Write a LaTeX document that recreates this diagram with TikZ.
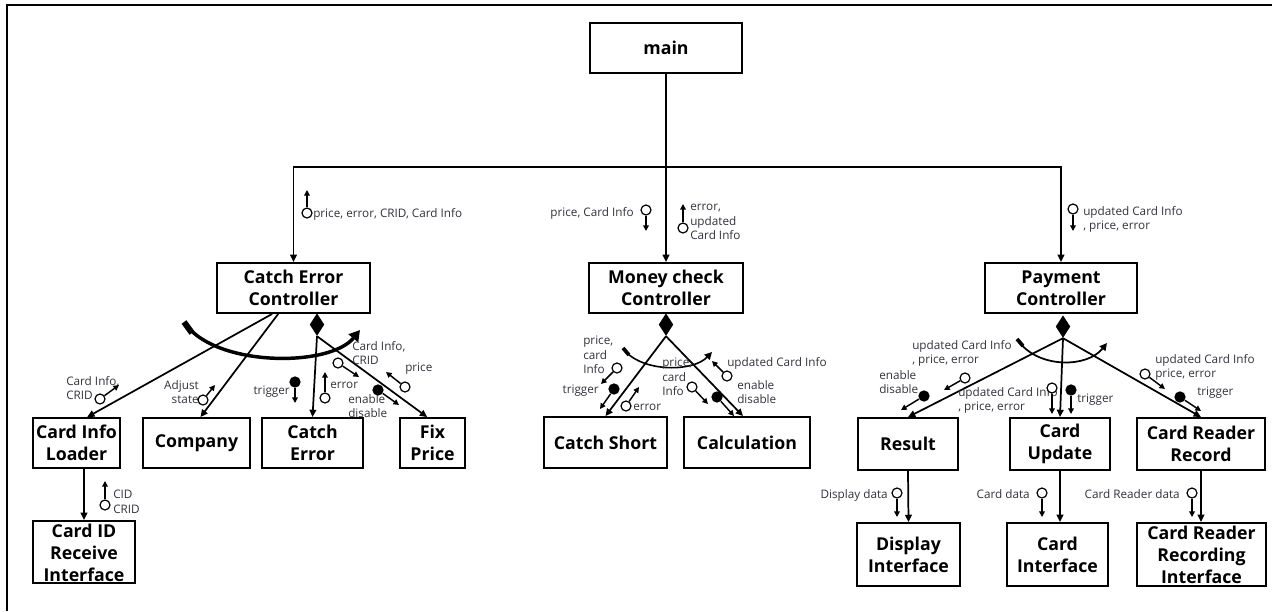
\documentclass[tikz,border=0pt]{standalone}
\usepackage{fontspec}
\setmainfont{Open Sans}
\usetikzlibrary{arrows.meta,shapes.geometric}
\definecolor{labc}{RGB}{50,50,60}
\newcommand{\cpl}[4]{\node[#2] (#1) at (#3) {}; \coordinate (#1e) at (#4); \draw[carr] (#1) -- (#1e);}
\begin{document}
\begin{tikzpicture}[x=0.75pt,y=-0.75pt,
  box/.style={draw, line width=1.4pt, inner sep=0pt, align=center, font=\fontsize{13.3}{16.5}\selectfont\bfseries, text=black},
  boxtxt/.style={inner sep=0pt, align=center, font=\fontsize{13.3}{16.5}\selectfont\bfseries, text=black},
  lab/.style={inner sep=0pt, font=\fontsize{8.8}{10.8}\selectfont, text=labc},
  arr/.style={line width=1.3pt, -{Triangle[length=5.5pt,width=5pt]}},
  ln/.style={line width=1.3pt},
  oc/.style={circle, draw, line width=0.9pt, minimum size=7.5pt, inner sep=0pt, fill=white},
  fc/.style={circle, fill=black, minimum size=8.5pt, inner sep=0pt},
  carr/.style={line width=1.1pt, -{Triangle[length=4.2pt,width=4.2pt]}},
  diam/.style={diamond, fill=black, inner sep=0pt, minimum width=11pt, minimum height=17pt}
]
\useasboundingbox (0,0) rectangle (1272,611);
% frame
\draw[line width=1.5pt] (7,611) -- (7,5) -- (1272,5);

% boxes
\node[box, minimum width=114pt, minimum height=37.5pt] (main) at (666,48) {main};
\node[box, minimum width=114.75pt, minimum height=37.5pt] (cec) at (293.5,288) {Catch Error\\Controller};
\node[box, minimum width=115.5pt, minimum height=37.5pt] (mcc) at (666,288) {Money check\\Controller};
\node[box, minimum width=114pt, minimum height=37.5pt] (pc) at (1061,288) {Payment\\Controller};

\node[box, minimum width=65.25pt, minimum height=37.5pt] (cil) at (76.5,443) {Card Info\\Loader};
\node[box, minimum width=80.25pt, minimum height=37.5pt] (comp) at (196.5,443) {Company};
\node[box, minimum width=75.75pt, minimum height=37.5pt] (ce) at (312.5,443) {Catch\\Error};
\node[box, minimum width=48.75pt, minimum height=37.5pt] (fp) at (432.5,443) {Fix\\Price};
\node[box, minimum width=76.5pt, minimum height=46.5pt] (cidri) at (84,552) {};
\node[boxtxt] (cidrit) at (84,553) {Card ID\\Receive\\Interface};

\node[box, minimum width=92.25pt, minimum height=38.25pt] (cs) at (605.5,442.5) {Catch Short};
\node[box, minimum width=94.5pt, minimum height=38.25pt] (calc) at (747,442.5) {Calculation};

\node[box, minimum width=75pt, minimum height=39pt] (res) at (908,444) {Result};
\node[box, minimum width=75pt, minimum height=39pt] (cu) at (1060,444) {Card\\Update};
\node[box, minimum width=96pt, minimum height=39pt] (crr) at (1201,444) {Card Reader\\Record};
\node[box, minimum width=77.25pt, minimum height=47.25pt] (di) at (908.5,554.5) {Display\\Interface};
\node[box, minimum width=75.75pt, minimum height=47.25pt] (ci) at (1057.5,554.5) {Card\\Interface};
\node[box, minimum width=96.75pt, minimum height=47.25pt] (crri) at (1201.5,554.5) {};
\node[boxtxt] (crrit) at (1201.5,555) {Card Reader\\Recording\\Interface};

% diamonds
\node[diam, anchor=north] (d1) at (317,313) {};
\node[diam, anchor=north] (d2) at (666,313) {};
\node[diam, anchor=north] (d3) at (1063,315) {};

% bus
\coordinate (j) at (666,167);
\draw[ln] (main.south) -- (j);
\draw[arr] (j) -- (mcc.north);
\draw[arr] (j) -| (cec.north);
\draw[arr] (j) -| (pc.north);

% iteration arcs
\draw[line width=2.6pt, -{Triangle[length=8pt,width=9pt]}] (187,326) .. controls (220,367) and (330,367) .. (360,330);
\draw[line width=4.5pt] (184,322) -- (192,333);
\draw[line width=1.2pt, -{Triangle[length=5.5pt,width=5.5pt]}] (626,352) .. controls (645,372) and (693,372) .. (712,352);
\draw[line width=2.8pt] (623,348) -- (629,355);
\draw[line width=1.3pt, -{Triangle[length=5.5pt,width=5.5pt]}] (1020,343) .. controls (1040,368) and (1087,368) .. (1107,343);
\draw[line width=2.8pt] (1017,339) -- (1023,346);

% connectors
\draw[arr] ([xshift=-16pt]cec.south) -- ([xshift=8pt]cil.north);
\draw[arr] ([xshift=-11.5pt]cec.south) -- ([xshift=3pt]comp.north);
\draw[arr] (d1.south) -- (ce.north);
\draw[arr] (d1.south) -- ([xshift=-4pt]fp.north);
\draw[arr] (cil.south -| cidri.north) -- (cidri.north);
\draw[arr] (d2.south) -- (cs.north);
\draw[arr] (d2.south) -- ([xshift=-3pt]calc.north);
\draw[arr] (d3.south) -- (res.north);
\draw[arr] (d3.south) -- (cu.north);
\draw[arr] (d3.south) -- (crr.north);
\draw[arr] (res.south) -- (di.north);
\draw[arr] (cu.south) -- (cu.south |- ci.north);
\draw[arr] (crr.south) -- (crr.south |- crri.north);

% top labels
\node[lab, anchor=base west] (t1) at (313,217) {price, error, CRID, Card Info};
\cpl{k1}{oc}{307,213}{307,190}
\node[lab, anchor=base east] (t2) at (634,216) {price, Card Info};
\cpl{k2}{oc}{646,210}{646,231}
\node[lab, anchor=north west, align=left] (t3) at (690,204) {error,\\updated\\Card Info};
\cpl{k3}{oc}{683,228}{683,204}
\node[lab, anchor=north west, align=left] (t4) at (1083,206) {updated Card Info\\, price, error};
\cpl{k4}{oc}{1073,209}{1073,231}

% catch error controller labels
\node[lab, anchor=north west, align=left] (a1) at (66,376) {Card Info,\\CRID};
\cpl{a1k}{oc}{100,399}{119,385}
\node[lab, anchor=north east, align=right] (a2) at (199,380) {Adjust\\state};
\cpl{a2k}{oc}{203,400}{215,385}
\node[lab, anchor=base east] (a3) at (290,394) {trigger};
\cpl{a3k}{fc}{295,382}{295,403}
\node[lab, anchor=base west] (a4) at (330,388) {error};
\cpl{a4k}{oc}{325,398}{325,372}
\node[lab, anchor=north west, align=left] (a5) at (352,341) {Card Info,\\CRID};
\cpl{a5k}{oc}{338,363}{359,377}
\node[lab, anchor=base west] (a6) at (405,371) {price};
\cpl{a6k}{oc}{405,387}{386,372}
\node[lab, anchor=north west, align=left] (a7) at (348,394) {enable\\disable};
\cpl{a7k}{fc}{378,390}{399,405}
\node[lab, anchor=north west, align=left] (b1) at (113,490) {CID\\CRID};
\cpl{b1k}{oc}{105,505}{105,481}

% money check controller labels
\node[lab, anchor=north west, align=left] (m1) at (583,336) {price,\\card\\Info};
\cpl{m1k}{oc}{617,368}{601,384}
\node[lab, anchor=base east] (m2) at (599,393) {trigger};
\cpl{m2k}{fc}{614,389}{600,409}
\node[lab, anchor=base west] (m3) at (633,410) {error};
\cpl{m3k}{oc}{626,406}{639,387}
\node[lab, anchor=north west, align=left] (m4) at (662,358) {price,\\card\\Info};
\cpl{m4k}{oc}{692,387}{708,404}
\node[lab, anchor=base west] (m5) at (727,366) {updated Card Info};
\cpl{m5k}{oc}{727,376}{712,361}
\node[lab, anchor=north west, align=left] (m6) at (737,380) {enable\\disable};
\cpl{m6k}{fc}{717,397}{734,416}

% payment controller labels
\node[lab, anchor=north west, align=left] (p1) at (912,340) {updated Card Info\\, price, error};
\cpl{p1k}{oc}{965,378}{944,390}
\node[lab, anchor=north west, align=left] (p2) at (879,370) {enable\\disable};
\cpl{p2k}{fc}{924,396}{901,410}
\node[lab, anchor=north west, align=left] (p3) at (958,387) {updated Card Info\\, price, error};
\cpl{p3k}{oc}{1052,388}{1052,414}
\node[lab, anchor=base west] (p4) at (1077,402) {trigger};
\cpl{p4k}{fc}{1071,390}{1071,414}
\node[lab, anchor=north west, align=left] (p5) at (1155,354) {updated Card Info\\price, error};
\cpl{p5k}{oc}{1145,374}{1165,389}
\node[lab, anchor=base west] (p6) at (1197,395) {trigger};
\cpl{p6k}{fc}{1180,397}{1201,411}

% bottom labels
\node[lab, anchor=base east] (q1) at (888,498) {Display data};
\cpl{q1k}{oc}{897,493}{897,517}
\node[lab, anchor=base east] (q2) at (1030,498) {Card data};
\cpl{q2k}{oc}{1042,493}{1042,517}
\node[lab, anchor=base east] (q3) at (1180,498) {Card Reader data};
\cpl{q3k}{oc}{1192,493}{1192,517}
\end{tikzpicture}
\end{document}
